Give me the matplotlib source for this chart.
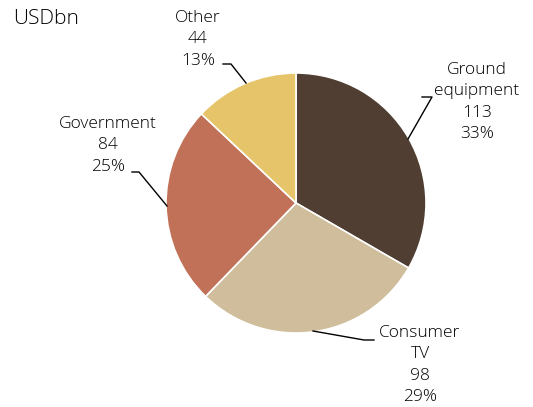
import matplotlib.pyplot as plt

plt.rcParams['font.family'] = ['Open Sans', 'DejaVu Sans']

labels = ["Ground\nequipment", "Consumer\nTV", "Government", "Other"]
values = [113, 98, 84, 44]
shares = ["33%", "29%", "25%", "13%"]
colors = ["#4f3e31", "#cfbd9b", "#c07157", "#e6c56a"]

W, H = 533, 407
fig = plt.figure(figsize=(W / 100, H / 100), dpi=100)
ax = fig.add_axes([0, 0, 1, 1])

cx, cy, r = 296, H - 203, 130
ax.pie(values, colors=colors, startangle=90, counterclock=False,
       center=(cx, cy), radius=r, frame=True,
       wedgeprops=dict(edgecolor='white', linewidth=1.2))
ax.set_xlim(0, W)
ax.set_ylim(0, H)
ax.set_aspect('equal')
ax.axis('off')

# text anchor (center x, top y in px) and leader line points (px)
text_pos = [(477, 62), (420, 325), (108, 116), (198, 10)]
leaders = [
    [(422, 97), (432, 97), (408, 139)],
    [(374, 340), (364, 340), (313, 331)],
    [(132, 172), (139, 172), (167, 206)],
    [(223, 64), (231, 64), (246, 83)],
]

for lab, v, s, (tx, ty), pts in zip(labels, values, shares, text_pos, leaders):
    ax.text(tx, H - ty, f"{lab}\n{v}\n{s}", ha='center', va='top',
            fontsize=12.5, fontweight='light', color='black',
            linespacing=1.44)
    ax.plot([p[0] for p in pts], [H - p[1] for p in pts], color='black', lw=1)

ax.text(13, H - 9, "USDbn", ha='left', va='top', fontsize=15,
        fontweight='light', color='black')

fig.savefig("out.png", dpi=100)
